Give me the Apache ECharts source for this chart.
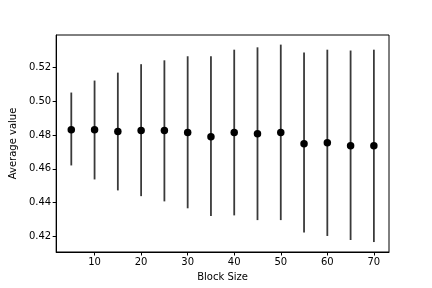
<!DOCTYPE html>
<html>
<head>
<meta charset="utf-8">
<script src="https://cdn.jsdelivr.net/npm/echarts@6/dist/echarts.min.js"></script>
<style>html,body{margin:0;padding:0;background:#fff;}#c{width:432px;height:288px;}</style>
</head>
<body>
<div id="c"></div>
<script>
const blockSizes = [5, 10, 15, 20, 25, 30, 35, 40, 45, 50, 55, 60, 65, 70];
const avgValues  = [0.4831, 0.4831, 0.4821, 0.4827, 0.4827, 0.4815, 0.4790, 0.4815, 0.4808, 0.4815, 0.4749, 0.4754, 0.4737, 0.4737];
const lowerVals  = [0.4620, 0.4537, 0.4472, 0.4438, 0.4407, 0.4366, 0.4320, 0.4324, 0.4296, 0.4296, 0.4222, 0.4202, 0.4178, 0.4166];
const upperVals  = [0.5052, 0.5123, 0.5170, 0.5220, 0.5243, 0.5267, 0.5267, 0.5306, 0.5320, 0.5336, 0.5289, 0.5306, 0.5301, 0.5306];
const xTicks = [10, 20, 30, 40, 50, 60, 70];
const yTicks = [0.42, 0.44, 0.46, 0.48, 0.50, 0.52];

const chart = echarts.init(document.getElementById('c'), null, {renderer: 'canvas'});
const font = 'DejaVu Sans';
const errData = blockSizes.map((x, i) => [x, lowerVals[i], upperVals[i]]);
const ptData = blockSizes.map((x, i) => [x, avgValues[i]]);

chart.setOption({
  animation: false,
  backgroundColor: '#fff',
  grid: {left: 54, top: 35, right: 43, bottom: 36, show: true, borderColor: '#000', borderWidth: 1, backgroundColor: 'transparent'},
  xAxis: {
    type: 'value', min: 1.75, max: 73.25,
    name: 'Block Size', nameLocation: 'middle', nameGap: 20,
    nameTextStyle: {fontFamily: font, fontSize: 10, color: '#000'},
    axisLine: {show: true, onZero: false, lineStyle: {color: '#000', width: 1}},
    axisTick: {show: true, length: 3.5, lineStyle: {color: '#000'}, customValues: xTicks},
    axisLabel: {fontFamily: font, fontSize: 10, color: '#000', margin: 5, customValues: xTicks},
    splitLine: {show: false}
  },
  yAxis: {
    type: 'value', min: 0.4107, max: 0.5393,
    name: 'Average value', nameLocation: 'middle', nameGap: 34, nameRotate: 90,
    nameTextStyle: {fontFamily: font, fontSize: 10, color: '#000'},
    axisLine: {show: true, onZero: false, lineStyle: {color: '#000', width: 1}},
    axisTick: {show: true, length: 3.5, lineStyle: {color: '#000'}, customValues: yTicks},
    axisLabel: {fontFamily: font, fontSize: 10, color: '#000', margin: 5, customValues: yTicks,
      formatter: v => v.toFixed(2)},
    splitLine: {show: false}
  },
  series: [
    {
      type: 'custom',
      data: errData,
      renderItem: function (params, api) {
        const x = api.value(0);
        const p1 = api.coord([x, api.value(1)]);
        const p2 = api.coord([x, api.value(2)]);
        return {type: 'line', shape: {x1: p1[0], y1: p1[1], x2: p2[0], y2: p2[1]},
          style: {stroke: '#3a3a3a', lineWidth: 1.8}};
      },
      z: 2
    },
    {
      type: 'scatter',
      data: ptData,
      symbol: 'circle', symbolSize: 7.5,
      itemStyle: {color: '#000', opacity: 1},
      z: 3
    }
  ]
});
</script>
</body>
</html>
